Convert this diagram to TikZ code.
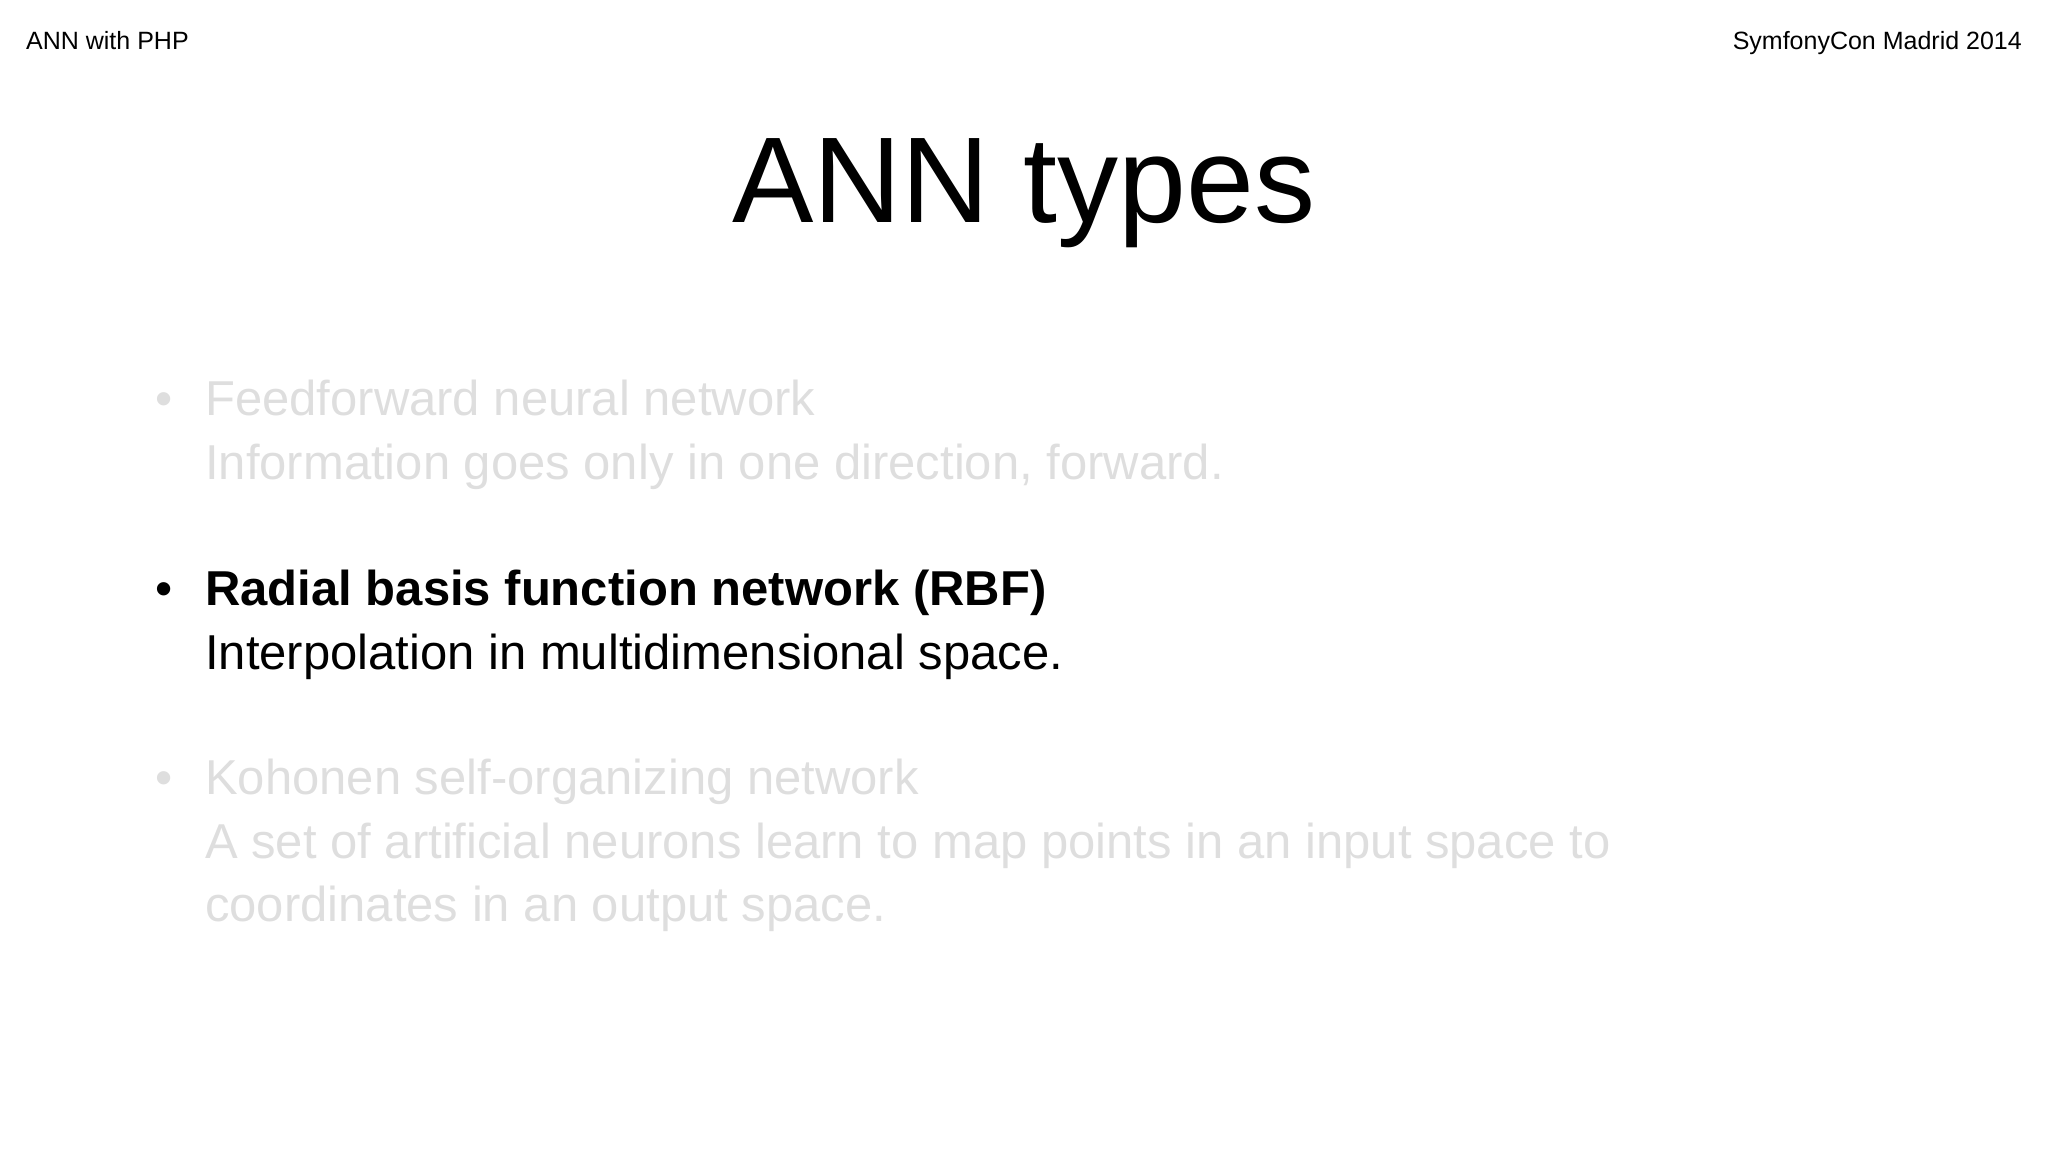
\documentclass[tikz,border=0pt]{standalone}
\usepackage{fontspec}
\setmainfont{Liberation Sans}
\begin{document}
\begin{tikzpicture}[x=1pt,y=-1pt,
  hdr/.style={inner sep=0pt,font=\fontsize{25}{30}\selectfont},
  body/.style={inner sep=0pt,anchor=base west,font=\fontsize{49}{58}\selectfont},
  faded/.style={text=black!13},
  bul/.style={inner sep=0pt,anchor=base,font=\fontsize{49}{58}\selectfont}]
\useasboundingbox (0,0) rectangle (2048,1152);
\node[hdr,anchor=base west] (hl) at (26,49) {ANN with PHP};
\node[hdr,anchor=base east] (hr) at (2022,49) {SymfonyCon Madrid 2014};
\node[inner sep=0pt,anchor=base,font=\fontsize{122}{140}\selectfont] (title) at (1024,222) {ANN types};
\node[bul,faded] (b1) at (164,415) {•};
\node[body,faded] (t1a) at (205,415) {Feedforward neural network};
\node[body,faded] (t1b) at (205,479) {Information goes only in one direction, forward.};
\node[bul] (b2) at (164,605) {•};
\node[body,font=\fontsize{49}{58}\selectfont\bfseries] (t2a) at (205,605) {Radial basis function network (RBF)};
\node[body] (t2b) at (205,669) {Interpolation in multidimensional space.};
\node[bul,faded] (b3) at (164,794) {•};
\node[body,faded] (t3a) at (205,794) {Kohonen self-organizing network};
\node[body,faded] (t3b) at (205,858) {A set of artificial neurons learn to map points in an input space to};
\node[body,faded] (t3c) at (205,921) {coordinates in an output space.};
\end{tikzpicture}
\end{document}
